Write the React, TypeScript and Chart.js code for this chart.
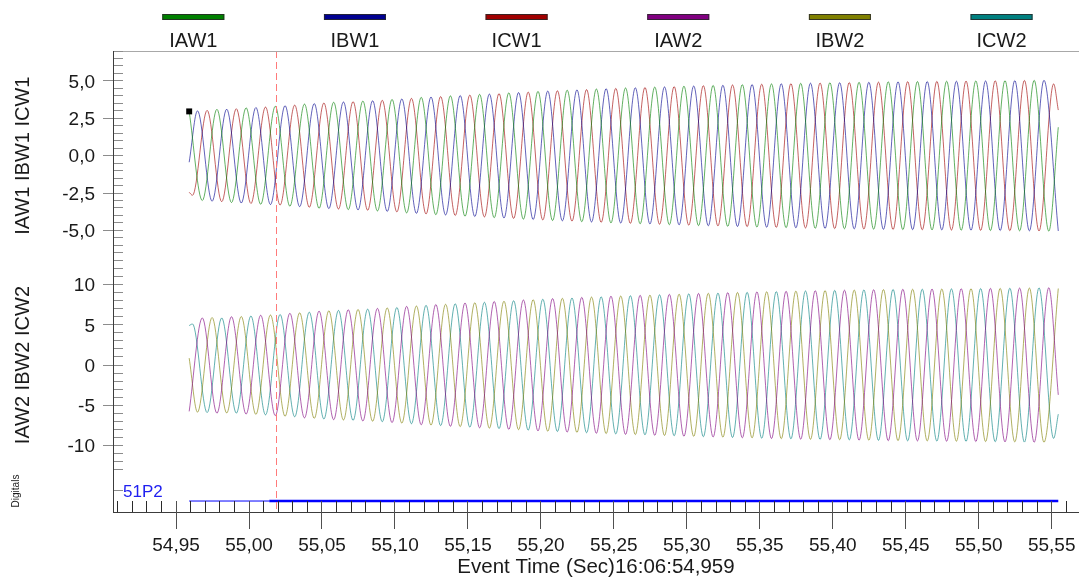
import React, { useEffect, useRef } from 'react';
import { Chart, registerables } from 'chart.js';

Chart.register(...registerables);

// ---------------- DATA ----------------
const SERIES_NAMES = ['IAW1', 'IBW1', 'ICW1', 'IAW2', 'IBW2', 'ICW2'];
const SERIES_COLORS = ['#008000', '#000090', '#a00000', '#800080', '#808000', '#008080'];

const T_START = 54.959;
const T_END = 55.5545;
const HALF_CYCLE = 0.01;

// Each series: value at record start, values at successive peaks/troughs, value at record end
const IAW1_START = 2.95;
const IAW1_FIRST_EXT = 54.968;
const IAW1_EXT = [
  -3.0, 3.1, -3.14, 3.2, -3.25, 3.3, -3.38, 3.45, -3.52, 3.57,
  -3.61, 3.65, -3.7, 3.76, -3.83, 3.9, -3.95, 4.0, -4.05, 4.1,
  -4.15, 4.2, -4.25, 4.3, -4.34, 4.38, -4.42, 4.46, -4.5, 4.53,
  -4.56, 4.59, -4.62, 4.65, -4.68, 4.7, -4.73, 4.75, -4.78, 4.8,
  -4.82, 4.84, -4.86, 4.88, -4.89, 4.91, -4.92, 4.94, -4.95, 4.96,
  -4.97, 4.98, -4.99, 5.0, -5.01, 5.02, -5.03, 5.04, -5.05,
];
const IAW1_END = 1.9;

const IBW1_START = -0.44;
const IBW1_FIRST_EXT = 54.9647;
const IBW1_EXT = [
  3.0, -3.05, 3.11, -3.17, 3.22, -3.27, 3.34, -3.41, 3.48, -3.54,
  3.59, -3.63, 3.67, -3.73, 3.79, -3.86, 3.92, -3.97, 4.02, -4.07,
  4.12, -4.17, 4.22, -4.27, 4.32, -4.36, 4.4, -4.44, 4.48, -4.51,
  4.54, -4.57, 4.6, -4.63, 4.66, -4.69, 4.71, -4.74, 4.76, -4.79,
  4.81, -4.83, 4.85, -4.87, 4.88, -4.9, 4.91, -4.93, 4.94, -4.95,
  4.96, -4.97, 4.98, -4.99, 5.0, -5.01, 5.02, -5.03, 5.04,
];
const IBW1_END = -5.04;

const ICW1_START = -2.45;
const ICW1_FIRST_EXT = 54.9613;
const ICW1_EXT = [
  -2.65, 3.03, -3.08, 3.14, -3.2, 3.25, -3.3, 3.38, -3.45, 3.52,
  -3.57, 3.61, -3.65, 3.7, -3.76, 3.83, -3.9, 3.95, -4.0, 4.05,
  -4.1, 4.15, -4.2, 4.25, -4.3, 4.34, -4.38, 4.42, -4.46, 4.5,
  -4.53, 4.56, -4.59, 4.62, -4.65, 4.68, -4.7, 4.73, -4.75, 4.78,
  -4.8, 4.82, -4.84, 4.86, -4.88, 4.89, -4.91, 4.92, -4.94, 4.95,
  -4.96, 4.97, -4.98, 4.99, -5.0, 5.01, -5.02, 5.03, -5.04, 4.8,
];
const ICW1_END = 3.05;

const IAW2_START = -5.75;
const IAW2_FIRST_EXT = 54.968;
const IAW2_EXT = [
  5.85, -5.97, 6.0, -6.08, 6.18, -6.27, 6.42, -6.56, 6.69, -6.78,
  6.86, -6.94, 7.03, -7.14, 7.28, -7.41, 7.51, -7.6, 7.7, -7.79,
  7.89, -7.98, 8.08, -8.17, 8.25, -8.32, 8.4, -8.47, 8.55, -8.61,
  8.66, -8.72, 8.78, -8.84, 8.89, -8.93, 8.99, -9.03, 9.08, -9.12,
  9.16, -9.2, 9.23, -9.27, 9.29, -9.33, 9.35, -9.39, 9.41, -9.42,
  9.44, -9.46, 9.48, -9.5, 9.52, -9.54, 9.56, -9.58, 9.6,
];
const IAW2_END = -3.7;

const IBW2_START = 0.86;
const IBW2_FIRST_EXT = 54.9647;
const IBW2_EXT = [
  -5.85, 5.9, -5.95, 6.02, -6.12, 6.21, -6.35, 6.48, -6.61, 6.73,
  -6.82, 6.9, -6.97, 7.09, -7.2, 7.33, -7.45, 7.54, -7.64, 7.73,
  -7.83, 7.92, -8.02, 8.11, -8.21, 8.28, -8.36, 8.44, -8.51, 8.57,
  -8.63, 8.68, -8.74, 8.8, -8.85, 8.91, -8.95, 9.01, -9.04, 9.1,
  -9.14, 9.18, -9.22, 9.25, -9.27, 9.31, -9.33, 9.37, -9.39, 9.41,
  -9.42, 9.44, -9.46, 9.48, -9.5, 9.52, -9.54, 9.56, -9.58,
];
const IBW2_END = 9.5;

const ICW2_START = 4.9;
const ICW2_FIRST_EXT = 54.9613;
const ICW2_EXT = [
  5.1, -5.9, 5.85, -5.97, 6.08, -6.18, 6.27, -6.42, 6.56, -6.69,
  6.78, -6.86, 6.94, -7.03, 7.14, -7.28, 7.41, -7.51, 7.6, -7.7,
  7.79, -7.89, 7.98, -8.08, 8.17, -8.25, 8.32, -8.4, 8.47, -8.55,
  8.61, -8.66, 8.72, -8.78, 8.84, -8.89, 8.93, -8.99, 9.03, -9.08,
  9.12, -9.16, 9.2, -9.23, 9.27, -9.29, 9.33, -9.35, 9.39, -9.41,
  9.42, -9.44, 9.46, -9.48, 9.5, -9.52, 9.54, -9.56, 9.58, -9.1,
];
const ICW2_END = -6.1;

// Digital channel 51P2: state change times and states
const DIGITAL_NAME = '51P2';
const DIGITAL_TIMES = [54.959, 55.0139, 55.5545];
const DIGITAL_STATES = [0, 1, 1];

// Cursor and marker
const CURSOR_TIME = 55.0187;
const MARKER_POINT = { x: 54.959, y: 2.96 };

// Axis ticks / labels
const X_TICKS = [54.95, 55.0, 55.05, 55.1, 55.15, 55.2, 55.25, 55.3, 55.35, 55.4, 55.45, 55.5, 55.55];
const Y1_TICKS = [5, 2.5, 0, -2.5, -5];
const Y2_TICKS = [10, 5, 0, -5, -10];
const Y1_TITLE = 'IAW1 IBW1 ICW1';
const Y2_TITLE = 'IAW2 IBW2 ICW2';
const DIGITAL_TITLE = 'Digitals';
const X_TITLE = 'Event Time (Sec)16:06:54,959';

// ---------------- LAYOUT ----------------
const W = 1079;
const H = 580;
const P_LEFT = 113;
const P_TOP = 51;
const P_SPLIT1 = 260.3;
const P_SPLIT2 = 469.8;
const P_BOTTOM = 512;
const UPPER_LIM = 7;
const LOWER_LIM = 13;
const X_MIN = 54.9068;
const X_MAX = 55.5687;
const DIGITAL_LINE_LEVEL = 0.26;
const DIGITAL_LABEL_LEVEL = 0.5;
const FONT = '"Liberation Sans", Arial, Helvetica, sans-serif';

const chartH = P_BOTTOM - P_TOP;
const u1 = (P_SPLIT1 - P_TOP) / (2 * UPPER_LIM);
const u2 = (P_SPLIT2 - P_SPLIT1) / (2 * LOWER_LIM);
const Y1_MAX = UPPER_LIM;
const Y1_MIN = UPPER_LIM - chartH / u1;
const Y2_MAX = LOWER_LIM + (P_SPLIT1 - P_TOP) / u2;
const Y2_MIN = Y2_MAX - chartH / u2;
const Y3_MIN = 0;
const Y3_MAX = chartH / (P_BOTTOM - P_SPLIT2);

function buildWave(start: number, first: number, ext: number[], end: number) {
  const pts = [{ x: T_START, y: start }];
  ext.forEach((v, i) => pts.push({ x: first + i * HALF_CYCLE, y: v }));
  pts.push({ x: T_END, y: end });
  return pts;
}

const WAVES = [
  buildWave(IAW1_START, IAW1_FIRST_EXT, IAW1_EXT, IAW1_END),
  buildWave(IBW1_START, IBW1_FIRST_EXT, IBW1_EXT, IBW1_END),
  buildWave(ICW1_START, ICW1_FIRST_EXT, ICW1_EXT, ICW1_END),
  buildWave(IAW2_START, IAW2_FIRST_EXT, IAW2_EXT, IAW2_END),
  buildWave(IBW2_START, IBW2_FIRST_EXT, IBW2_EXT, IBW2_END),
  buildWave(ICW2_START, ICW2_FIRST_EXT, ICW2_EXT, ICW2_END),
];

function hexA(hex: string, a: number) {
  const r = parseInt(hex.slice(1, 3), 16);
  const g = parseInt(hex.slice(3, 5), 16);
  const b = parseInt(hex.slice(5, 7), 16);
  return `rgba(${r},${g},${b},${a})`;
}

const fmtComma = (v: number, d: number) => v.toFixed(d).replace('.', ',');

const decorPlugin = {
  id: 'decor',
  afterDatasetsDraw(chart: any) {
    const { ctx, chartArea } = chart;
    const xs = chart.scales.x;
    const cx = Math.round(xs.getPixelForValue(CURSOR_TIME)) + 0.5;
    ctx.save();
    ctx.strokeStyle = '#ff7a7a';
    ctx.lineWidth = 1;
    ctx.setLineDash([7, 4]);
    ctx.beginPath();
    ctx.moveTo(cx, chartArea.top);
    ctx.lineTo(cx, chartArea.bottom);
    ctx.stroke();
    ctx.restore();
  },
  afterDraw(chart: any) {
    const { ctx, chartArea } = chart;
    const { x: xs, y1, y2, y3 } = chart.scales;
    const L = chartArea.left;
    const R = chartArea.right;
    const T = chartArea.top;
    const B = chartArea.bottom;
    const crisp = (v: number) => Math.round(v - 0.5) + 0.5;
    const line = (x1: number, yA: number, x2: number, yB: number) => {
      ctx.beginPath();
      ctx.moveTo(x1, yA);
      ctx.lineTo(x2, yB);
      ctx.stroke();
    };
    ctx.save();
    ctx.lineWidth = 1;

    // top border
    ctx.strokeStyle = '#a8a8a8';
    line(L, T + 0.5, R, T + 0.5);

    // left ticks
    ctx.strokeStyle = '#8c8c8c';
    for (let k = -2 * UPPER_LIM; k <= 2 * UPPER_LIM; k++) {
      const v = k / 2;
      const yy = crisp(y1.getPixelForValue(v));
      const major = k % 5 === 0;
      line(major ? L - 10 : L, yy, L + 10, yy);
    }
    for (let v = -LOWER_LIM; v <= LOWER_LIM; v++) {
      const yy = crisp(y2.getPixelForValue(v));
      const major = v % 5 === 0;
      line(major ? L - 10 : L, yy, L + 10, yy);
    }
    {
      const yy = crisp(y3.getPixelForValue(DIGITAL_LABEL_LEVEL));
      line(L, yy, L + 10, yy);
    }

    // axis lines
    ctx.strokeStyle = '#3c3c3c';
    line(L + 0.5, T, L + 0.5, B + 1);
    line(L, B + 0.5, R, B + 0.5);

    // x ticks
    ctx.strokeStyle = '#2a2a2a';
    for (let k = 5491; k <= 5556; k++) {
      const t = k / 100;
      const px = crisp(xs.getPixelForValue(t));
      if (px < L || px > R) continue;
      if (k % 5 === 0) {
        ctx.strokeStyle = '#505050';
        line(px, B - 11, px, B + 17);
        ctx.strokeStyle = '#2a2a2a';
      } else {
        line(px, B - 11, px, B);
      }
    }

    // tick labels
    ctx.fillStyle = '#1a1a1a';
    ctx.font = `19px ${FONT}`;
    ctx.textAlign = 'right';
    ctx.textBaseline = 'alphabetic';
    Y1_TICKS.forEach((v) => {
      ctx.fillText(fmtComma(v, 1), 95, y1.getPixelForValue(v) + 6.8);
    });
    Y2_TICKS.forEach((v) => {
      ctx.fillText(String(v), 95, y2.getPixelForValue(v) + 6.8);
    });
    ctx.textAlign = 'center';
    X_TICKS.forEach((t) => {
      ctx.fillText(fmtComma(t, 2), xs.getPixelForValue(t), 551);
    });

    // x title
    ctx.font = `20.5px ${FONT}`;
    ctx.fillText(X_TITLE, (L + R) / 2, 573);

    // y titles
    const vtext = (txt: string, x: number, y: number, font: string) => {
      ctx.save();
      ctx.translate(x, y);
      ctx.rotate(-Math.PI / 2);
      ctx.font = font;
      ctx.textAlign = 'center';
      ctx.fillText(txt, 0, 0);
      ctx.restore();
    };
    vtext(Y1_TITLE, 29, y1.getPixelForValue(0), `20px ${FONT}`);
    vtext(Y2_TITLE, 29, y2.getPixelForValue(0), `20px ${FONT}`);
    vtext(DIGITAL_TITLE, 19, 491, `10px ${FONT}`);

    // digital label
    ctx.fillStyle = '#2020f0';
    ctx.font = `17px ${FONT}`;
    ctx.textAlign = 'left';
    ctx.fillText(DIGITAL_NAME, 123, y3.getPixelForValue(DIGITAL_LABEL_LEVEL) + 6.5);

    // legend
    SERIES_NAMES.forEach((name, i) => {
      const cxl = 193.3 + 161.65 * i;
      ctx.fillStyle = SERIES_COLORS[i];
      ctx.fillRect(cxl - 31, 14, 62, 6);
      ctx.strokeStyle = 'rgba(40,40,40,0.85)';
      ctx.strokeRect(cxl - 31 + 0.5, 14.5, 61, 5);
      ctx.fillStyle = '#1a1a1a';
      ctx.font = `20px ${FONT}`;
      ctx.textAlign = 'center';
      ctx.fillText(name, cxl, 47);
    });
    ctx.restore();
  },
};

export default function App() {
  const canvasRef = useRef<HTMLCanvasElement | null>(null);

  useEffect(() => {
    const canvas = canvasRef.current;
    if (!canvas) return;
    const waveSets = WAVES.map((pts, i) => ({
      type: 'line' as const,
      label: SERIES_NAMES[i],
      data: pts,
      xAxisID: 'x',
      yAxisID: i < 3 ? 'y1' : 'y2',
      borderColor: hexA(SERIES_COLORS[i], 0.62),
      borderWidth: 1,
      pointRadius: 0,
      cubicInterpolationMode: 'monotone' as const,
      fill: false,
      order: 1,
    }));
    const digitalSet = {
      type: 'line' as const,
      label: DIGITAL_NAME,
      data: DIGITAL_TIMES.map((t) => ({ x: t, y: DIGITAL_LINE_LEVEL })),
      xAxisID: 'x',
      yAxisID: 'y3',
      borderColor: '#0000ff',
      borderWidth: 1,
      pointRadius: 0,
      tension: 0,
      segment: {
        borderWidth: (c: any) => (DIGITAL_STATES[c.p0DataIndex] ? 2.5 : 1),
      },
      order: 0,
    };
    const markerSet = {
      type: 'line' as const,
      label: 'cursor',
      data: [MARKER_POINT],
      xAxisID: 'x',
      yAxisID: 'y1',
      showLine: false,
      pointStyle: 'rect',
      pointRadius: 4.2,
      pointBackgroundColor: '#000000',
      pointBorderColor: '#000000',
      pointBorderWidth: 0,
      order: -1,
    };
    const chart = new Chart(canvas, {
      type: 'line',
      data: { datasets: [markerSet as any, digitalSet as any, ...(waveSets as any[])] },
      options: {
        responsive: false,
        animation: false,
        events: [],
        parsing: false,
        normalized: true,
        layout: { autoPadding: false, padding: { left: P_LEFT, top: P_TOP, right: 0, bottom: H - P_BOTTOM } },
        plugins: { legend: { display: false }, tooltip: { enabled: false }, title: { display: false } },
        scales: {
          x: { type: 'linear', min: X_MIN, max: X_MAX, display: false },
          y1: { type: 'linear', position: 'left', min: Y1_MIN, max: Y1_MAX, display: false },
          y2: { type: 'linear', position: 'left', min: Y2_MIN, max: Y2_MAX, display: false },
          y3: { type: 'linear', position: 'left', min: Y3_MIN, max: Y3_MAX, display: false },
        },
      } as any,
      plugins: [decorPlugin as any],
    });
    return () => chart.destroy();
  }, []);

  return (
    <div style={{ position: 'fixed', left: 0, top: 0, width: W, height: H, background: '#ffffff' }}>
      <canvas ref={canvasRef} width={W} height={H} style={{ width: W, height: H, display: 'block' }} />
    </div>
  );
}
